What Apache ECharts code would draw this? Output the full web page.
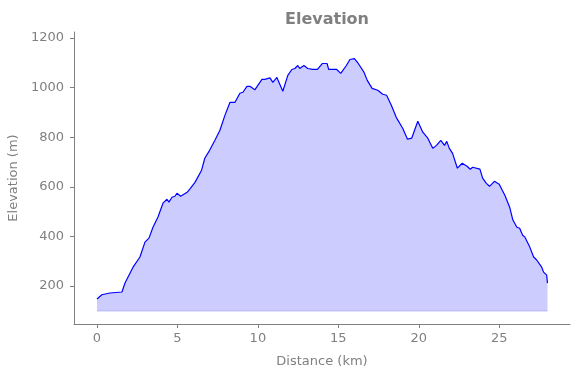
<!DOCTYPE html>
<html>
<head>
<meta charset="utf-8">
<script src="https://cdn.jsdelivr.net/npm/echarts@6/dist/echarts.min.js"></script>
<style>
    html, body { margin: 0; padding: 0; background: #fff; }
    #chart { width: 580px; height: 378px; }
</style>
</head>
<body>
<div id="chart"></div>
<script>
// profile, km / metres
var distanceKm = [
    0, 0.3, 0.8, 1.55, 1.74, 2.24, 2.67, 2.98, 3.23, 3.48,
    3.79, 4.1, 4.35, 4.47, 4.66, 4.84, 4.97, 5.2, 5.6, 5.78,
    6.09, 6.5, 6.7, 7.0, 7.33, 7.64, 7.95, 8.26, 8.57, 8.88,
    9.07, 9.32, 9.5, 9.81, 10.25, 10.43, 10.75, 10.93, 11.18, 11.3,
    11.55, 11.86, 12.11, 12.3, 12.48, 12.6, 12.86, 13.1, 13.4, 13.7,
    14.0, 14.3, 14.4, 14.9, 15.15, 15.5, 15.72, 16.0, 16.2, 16.6,
    16.8, 17.1, 17.45, 17.76, 18.0, 18.3, 18.6, 19.0, 19.3, 19.56,
    19.94, 20.25, 20.56, 20.87, 21.1, 21.37, 21.6, 21.74, 21.9, 22.1,
    22.4, 22.5, 22.7, 23.0, 23.2, 23.35, 23.8, 23.97, 24.2, 24.4,
    24.7, 25.0, 25.35, 25.65, 25.85, 26.1, 26.27, 26.46, 26.6, 26.9,
    27.14, 27.33, 27.45, 27.64, 27.76, 27.95, 28.0
];
var elevationM = [
    148, 165, 172, 176, 212, 276, 317, 377, 393, 437,
    478, 534, 550, 538, 558, 562, 574, 562, 578, 592,
    618, 667, 715, 747, 788, 828, 888, 940, 940, 977,
    981, 1005, 1005, 991, 1033, 1033, 1039, 1021, 1041, 1037,
    985, 1049, 1073, 1077, 1089, 1077, 1089, 1077, 1073, 1073,
    1097, 1097, 1073, 1073, 1057, 1089, 1113, 1117, 1101, 1061,
    1029, 997, 989, 973, 969, 928, 880, 836, 792, 796,
    864, 820, 796, 755, 767, 787, 767, 783, 755, 735,
    675, 671, 695, 683, 671, 679, 671, 635, 614, 602,
    622, 610, 566, 518, 466, 437, 433, 405, 397, 357,
    317, 305, 309, 276, 256, 244, 212
];
var baseElevation = 100;
var xTicks = [0, 5, 10, 15, 20, 25];
var yTicks = [200, 400, 600, 800, 1000, 1200];

var gray = '#808080';
var chart = echarts.init(document.getElementById('chart'));

var profile = distanceKm.map(function (d, i) { return [d, elevationM[i]]; });

var option = {
    animation: false,
    textStyle: { fontFamily: 'DejaVu Sans' },
    title: {
        text: 'Elevation',
        left: 322,
        top: 7,
        textAlign: 'center',
        textStyle: { color: gray, fontSize: 16, fontWeight: 'bold', fontFamily: 'DejaVu Sans' }
    },
    grid: { left: 74, right: 10, top: 32, bottom: 54, outerBoundsMode: 'none', containLabel: false },
    xAxis: {
        type: 'value',
        min: -1.43,
        max: 29.4,
        name: 'Distance (km)',
        nameLocation: 'middle',
        nameGap: 31,
        nameTextStyle: { color: gray, fontSize: 13 },
        splitLine: { show: false },
        axisLine: { onZero: false, lineStyle: { color: gray } },
        axisTick: { show: true, length: 4, lineStyle: { color: gray }, customValues: xTicks },
        axisLabel: { color: gray, fontSize: 13, margin: 8, customValues: xTicks }
    },
    yAxis: {
        type: 'value',
        min: 47,
        max: 1224,
        name: 'Elevation (m)',
        nameLocation: 'middle',
        nameGap: 48,
        nameTextStyle: { color: gray, fontSize: 13 },
        splitLine: { show: false },
        axisLine: { show: true, onZero: false, lineStyle: { color: gray } },
        axisTick: { show: true, length: 4, lineStyle: { color: gray }, customValues: yTicks },
        axisLabel: {
            color: gray, fontSize: 13, margin: 10, customValues: yTicks,
            formatter: function (v) { return String(v); }
        }
    },
    series: [
        {
            name: 'baseline',
            type: 'line',
            data: [[distanceKm[0], baseElevation], [distanceKm[distanceKm.length - 1], baseElevation]],
            symbol: 'none',
            silent: true,
            lineStyle: { color: '#b0b0fa', width: 1 }
        },
        {
            name: 'elevation',
            type: 'line',
            data: profile,
            symbol: 'none',
            lineStyle: { color: '#0000ff', width: 1.2 },
            areaStyle: { color: '#ccccff', opacity: 1, origin: baseElevation }
        }
    ]
};

chart.setOption(option);
</script>
</body>
</html>
